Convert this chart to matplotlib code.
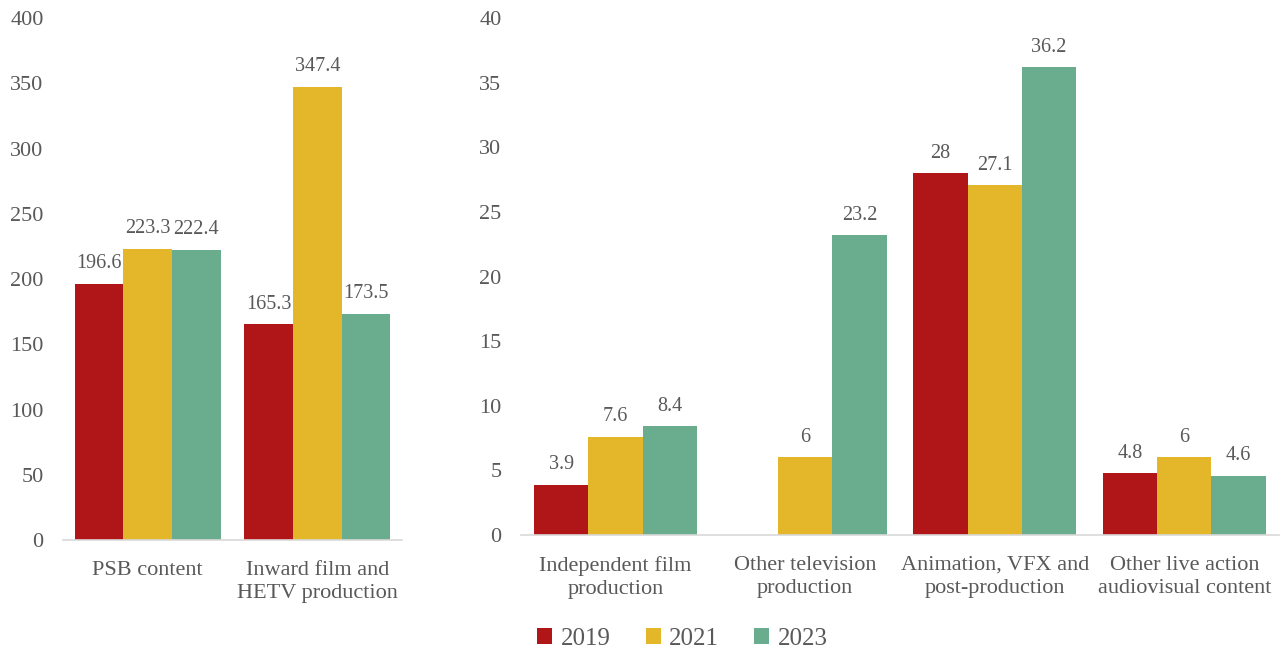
import matplotlib.pyplot as plt
import numpy as np

years = ["2019", "2021", "2023"]
colors = ["#B01518", "#E4B72A", "#69AC8E"]

left_cats = ["PSB content", "Inward film and\nHETV production"]
left_vals = [[196.6, 165.3], [223.3, 347.4], [222.4, 173.5]]

right_cats = ["Independent film\nproduction", "Other television\nproduction",
              "Animation, VFX and\npost-production", "Other live action\naudiovisual content"]
right_vals = [[3.9, np.nan, 28, 4.8], [7.6, 6, 27.1, 6], [8.4, 23.2, 36.2, 4.6]]

grey = "#595959"
plt.rcParams['font.family'] = ['Liberation Serif', 'DejaVu Serif']

fig = plt.figure(figsize=(12.86, 6.49), dpi=100)
ax1 = fig.add_axes([0.049, 0.168, 0.2636, 0.804])
ax2 = fig.add_axes([0.405, 0.1757, 0.5896, 0.7963])


def draw(ax, cats, vals, ymax, step, fmt):
    x = np.arange(len(cats))
    w = 0.287
    bars = []
    for i, (v, c) in enumerate(zip(vals, colors)):
        b = ax.bar(x + (i - 1) * w, v, w, color=c, label=years[i])
        bars.append(b)
        for xi, vi in zip(x + (i - 1) * w, v):
            if not np.isnan(vi):
                ax.text(xi, vi + ymax * 0.02, fmt(vi), ha="center", va="bottom",
                        color=grey, fontsize=14.5)
    ax.set_xlim(-0.5, len(cats) - 0.5)
    ax.set_ylim(0, ymax)
    ax.set_yticks(np.arange(0, ymax + step / 2, step))
    ax.set_xticks(x)
    ax.set_xticklabels(cats, color=grey, fontsize=16, linespacing=1.3)
    ax.tick_params(axis="y", colors=grey, labelsize=16, length=0, pad=14)
    ax.tick_params(axis="x", length=0, pad=15)
    for s in ["top", "right", "left"]:
        ax.spines[s].set_visible(False)
    ax.spines["bottom"].set_color("#D9D9D9")
    ax.spines["bottom"].set_linewidth(1.2)
    return bars


draw(ax1, left_cats, left_vals, 400, 50, lambda v: f"{v:g}")
bars = draw(ax2, right_cats, right_vals, 40, 5, lambda v: f"{v:g}")

fig.legend(handles=bars, labels=years, loc="center left", bbox_to_anchor=(0.4, 0.016),
           ncol=3, frameon=False, fontsize=18, handlelength=0.6, handleheight=0.6,
           columnspacing=1.4, handletextpad=0.35, labelcolor=grey)

fig.savefig("out.png", dpi=100)
